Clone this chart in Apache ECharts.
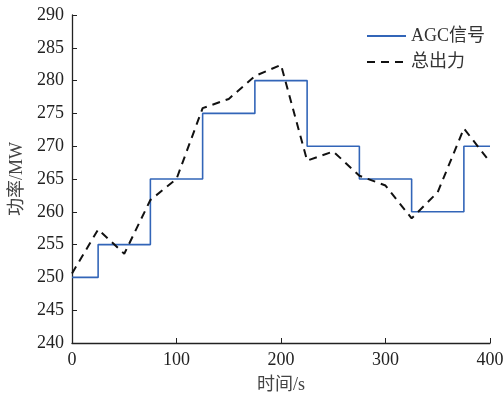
<!DOCTYPE html>
<html>
<head>
<meta charset="utf-8">
<script src="https://cdn.jsdelivr.net/npm/echarts@6/dist/echarts.min.js"></script>
<style>
  html, body { margin: 0; padding: 0; background: #fff; }
  #chart { width: 504px; height: 397px; }
</style>
</head>
<body>
<div id="chart"></div>
<script>
// AGC step signal: [time, value], each value holds until the next time
const agcTimes = [0, 25, 75, 125, 175, 225, 275, 325, 375, 400];
const agcValues = [250, 255, 265, 275, 280, 270, 265, 260, 270, 270];

// total output (dashed), sampled every 25 s
const outTimes = [0, 25, 50, 75, 100, 125, 150, 175, 200, 225, 250, 275, 300, 325, 350, 375, 400];
const outValues = [250.6, 257.3, 253.6, 261.8, 265, 275.8, 277.2, 280.7, 282.4, 267.8, 269.2, 265.5, 264, 259, 263, 272.7, 267.6];

const serifFont = '"Liberation Serif", "Noto Sans CJK SC", serif';

const chart = echarts.init(document.getElementById('chart'));

const option = {
  animation: false,
  grid: { left: 72, right: 14, top: 15, bottom: 54, outerBoundsMode: 'none' },
  legend: {
    right: 14,
    top: 22,
    orient: 'vertical',
    itemWidth: 39,
    itemHeight: 10,
    itemGap: 8,
    itemStyle: { opacity: 0 },
    textStyle: { fontFamily: serifFont, fontSize: 18, color: '#333' },
    data: ['AGC信号', '总出力']
  },
  xAxis: {
    type: 'value',
    min: 0, max: 400, interval: 100,
    name: '时间/s',
    nameLocation: 'middle',
    nameGap: 33,
    nameTextStyle: { fontFamily: serifFont, fontSize: 18, color: '#444' },
    axisLine: { lineStyle: { color: '#222', width: 1.3 } },
    axisTick: { inside: true, length: 5, lineStyle: { color: '#222' } },
    axisLabel: { fontFamily: serifFont, fontSize: 18, color: '#222', margin: 8 },
    splitLine: { show: false }
  },
  yAxis: {
    type: 'value',
    min: 240, max: 290, interval: 5,
    name: '功率/MW',
    nameLocation: 'middle',
    nameGap: 43,
    nameTextStyle: { fontFamily: serifFont, fontSize: 18, color: '#444' },
    axisLine: { show: true, lineStyle: { color: '#222', width: 1.3 } },
    axisTick: { show: true, inside: true, length: 5, lineStyle: { color: '#222' } },
    axisLabel: { fontFamily: serifFont, fontSize: 18, color: '#222', margin: 8 },
    splitLine: { show: false }
  },
  series: [
    {
      name: 'AGC信号',
      type: 'line',
      step: 'end',
      symbol: 'none',
      data: agcTimes.map((t, i) => [t, agcValues[i]]),
      lineStyle: { color: '#3265b8', width: 1.6 },
      itemStyle: { color: '#3265b8' }
    },
    {
      name: '总出力',
      type: 'line',
      symbol: 'none',
      data: outTimes.map((t, i) => [t, outValues[i]]),
      lineStyle: { color: '#111', width: 2, type: [8, 6] },
      itemStyle: { color: '#111' }
    }
  ]
};

chart.setOption(option);
</script>
</body>
</html>
